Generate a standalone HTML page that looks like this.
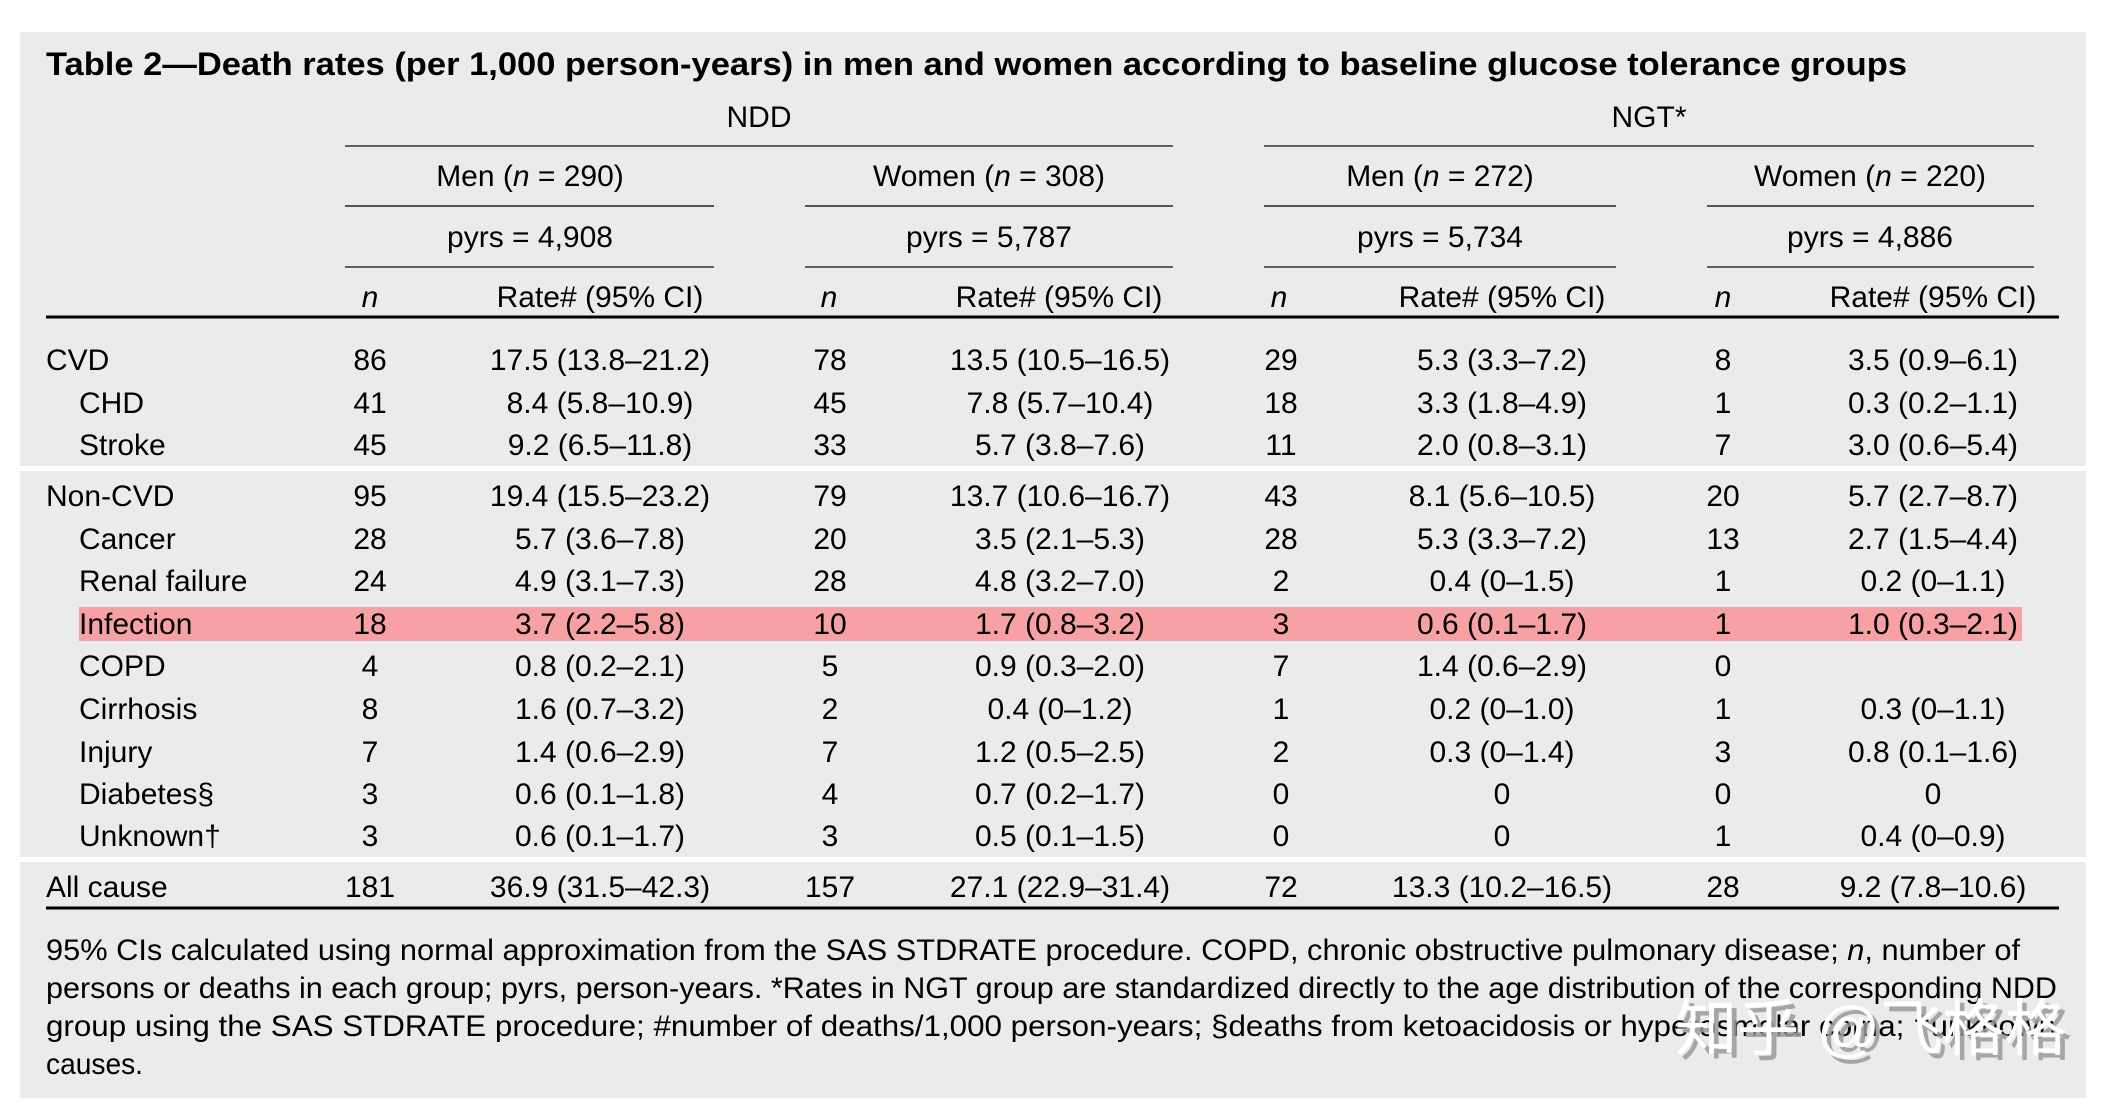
<!DOCTYPE html>
<html>
<head>
<meta charset="utf-8">
<style>
html,body{margin:0;padding:0;background:#fff;}
svg{display:block;}
text{font-family:"Liberation Sans","Noto Sans CJK SC",sans-serif;fill:#000;}
.b{font-size:30px;}
.m{text-anchor:middle;}
.i{font-style:italic;}
.t{font-size:32px;font-weight:bold;}
.wm{font-family:"Liberation Sans","Noto Sans CJK SC",sans-serif;font-size:62px;}
</style>
</head>
<body>
<svg width="2122" height="1112" viewBox="0 0 2122 1112" xmlns="http://www.w3.org/2000/svg">
<rect x="0" y="0" width="2122" height="1112" fill="#fff"/>
<rect x="20" y="32" width="2066" height="1066" fill="#ebebeb"/>
<!-- white separators -->
<rect x="20" y="466" width="2066" height="5" fill="#fff"/>
<rect x="20" y="857" width="2066" height="5" fill="#fff"/>
<!-- pink highlight -->
<rect x="79" y="607" width="1943" height="34" fill="#f8a1a4"/>

<!-- title -->
<text class="t" x="46" y="75" textLength="1861" lengthAdjust="spacingAndGlyphs">Table 2—Death rates (per 1,000 person-years) in men and women according to baseline glucose tolerance groups</text>

<!-- spanners -->
<text class="b m" x="759" y="127">NDD</text>
<text class="b m" x="1649" y="127">NGT*</text>
<line x1="345" y1="146" x2="1173" y2="146" stroke="#333" stroke-width="1.5"/>
<line x1="1264" y1="146" x2="2034" y2="146" stroke="#333" stroke-width="1.5"/>

<text class="b m" x="530" y="186">Men (<tspan class="i">n</tspan> = 290)</text>
<text class="b m" x="989" y="186">Women (<tspan class="i">n</tspan> = 308)</text>
<text class="b m" x="1440" y="186">Men (<tspan class="i">n</tspan> = 272)</text>
<text class="b m" x="1870" y="186">Women (<tspan class="i">n</tspan> = 220)</text>
<g stroke="#555" stroke-width="2">
<line x1="345" y1="206" x2="714" y2="206"/>
<line x1="805" y1="206" x2="1173" y2="206"/>
<line x1="1264" y1="206" x2="1616" y2="206"/>
<line x1="1707" y1="206" x2="2034" y2="206"/>
</g>

<text class="b m" x="530" y="247">pyrs = 4,908</text>
<text class="b m" x="989" y="247">pyrs = 5,787</text>
<text class="b m" x="1440" y="247">pyrs = 5,734</text>
<text class="b m" x="1870" y="247">pyrs = 4,886</text>
<g stroke="#333" stroke-width="1.5">
<line x1="345" y1="267" x2="714" y2="267"/>
<line x1="805" y1="267" x2="1173" y2="267"/>
<line x1="1264" y1="267" x2="1616" y2="267"/>
<line x1="1707" y1="267" x2="2034" y2="267"/>
</g>

<text class="b m i" x="370" y="307">n</text>
<text class="b m" x="600" y="307">Rate# (95% CI)</text>
<text class="b m i" x="829" y="307">n</text>
<text class="b m" x="1059" y="307">Rate# (95% CI)</text>
<text class="b m i" x="1279" y="307">n</text>
<text class="b m" x="1502" y="307">Rate# (95% CI)</text>
<text class="b m i" x="1723" y="307">n</text>
<text class="b m" x="1933" y="307">Rate# (95% CI)</text>
<line x1="46" y1="317" x2="2059" y2="317" stroke="#000" stroke-width="3"/>

<!-- rows -->
<g class="b">
<text class="b" x="46" y="370">CVD</text>
<text class="b m" x="370" y="370">86</text><text class="b m" x="600" y="370">17.5 (13.8–21.2)</text>
<text class="b m" x="830" y="370">78</text><text class="b m" x="1060" y="370">13.5 (10.5–16.5)</text>
<text class="b m" x="1281" y="370">29</text><text class="b m" x="1502" y="370">5.3 (3.3–7.2)</text>
<text class="b m" x="1723" y="370">8</text><text class="b m" x="1933" y="370">3.5 (0.9–6.1)</text>

<text class="b" x="79" y="413">CHD</text>
<text class="b m" x="370" y="413">41</text><text class="b m" x="600" y="413">8.4 (5.8–10.9)</text>
<text class="b m" x="830" y="413">45</text><text class="b m" x="1060" y="413">7.8 (5.7–10.4)</text>
<text class="b m" x="1281" y="413">18</text><text class="b m" x="1502" y="413">3.3 (1.8–4.9)</text>
<text class="b m" x="1723" y="413">1</text><text class="b m" x="1933" y="413">0.3 (0.2–1.1)</text>

<text class="b" x="79" y="455">Stroke</text>
<text class="b m" x="370" y="455">45</text><text class="b m" x="600" y="455">9.2 (6.5–11.8)</text>
<text class="b m" x="830" y="455">33</text><text class="b m" x="1060" y="455">5.7 (3.8–7.6)</text>
<text class="b m" x="1281" y="455">11</text><text class="b m" x="1502" y="455">2.0 (0.8–3.1)</text>
<text class="b m" x="1723" y="455">7</text><text class="b m" x="1933" y="455">3.0 (0.6–5.4)</text>

<text class="b" x="46" y="506">Non-CVD</text>
<text class="b m" x="370" y="506">95</text><text class="b m" x="600" y="506">19.4 (15.5–23.2)</text>
<text class="b m" x="830" y="506">79</text><text class="b m" x="1060" y="506">13.7 (10.6–16.7)</text>
<text class="b m" x="1281" y="506">43</text><text class="b m" x="1502" y="506">8.1 (5.6–10.5)</text>
<text class="b m" x="1723" y="506">20</text><text class="b m" x="1933" y="506">5.7 (2.7–8.7)</text>

<text class="b" x="79" y="549">Cancer</text>
<text class="b m" x="370" y="549">28</text><text class="b m" x="600" y="549">5.7 (3.6–7.8)</text>
<text class="b m" x="830" y="549">20</text><text class="b m" x="1060" y="549">3.5 (2.1–5.3)</text>
<text class="b m" x="1281" y="549">28</text><text class="b m" x="1502" y="549">5.3 (3.3–7.2)</text>
<text class="b m" x="1723" y="549">13</text><text class="b m" x="1933" y="549">2.7 (1.5–4.4)</text>

<text class="b" x="79" y="591">Renal failure</text>
<text class="b m" x="370" y="591">24</text><text class="b m" x="600" y="591">4.9 (3.1–7.3)</text>
<text class="b m" x="830" y="591">28</text><text class="b m" x="1060" y="591">4.8 (3.2–7.0)</text>
<text class="b m" x="1281" y="591">2</text><text class="b m" x="1502" y="591">0.4 (0–1.5)</text>
<text class="b m" x="1723" y="591">1</text><text class="b m" x="1933" y="591">0.2 (0–1.1)</text>

<text class="b" x="79" y="634">Infection</text>
<text class="b m" x="370" y="634">18</text><text class="b m" x="600" y="634">3.7 (2.2–5.8)</text>
<text class="b m" x="830" y="634">10</text><text class="b m" x="1060" y="634">1.7 (0.8–3.2)</text>
<text class="b m" x="1281" y="634">3</text><text class="b m" x="1502" y="634">0.6 (0.1–1.7)</text>
<text class="b m" x="1723" y="634">1</text><text class="b m" x="1933" y="634">1.0 (0.3–2.1)</text>

<text class="b" x="79" y="676">COPD</text>
<text class="b m" x="370" y="676">4</text><text class="b m" x="600" y="676">0.8 (0.2–2.1)</text>
<text class="b m" x="830" y="676">5</text><text class="b m" x="1060" y="676">0.9 (0.3–2.0)</text>
<text class="b m" x="1281" y="676">7</text><text class="b m" x="1502" y="676">1.4 (0.6–2.9)</text>
<text class="b m" x="1723" y="676">0</text>

<text class="b" x="79" y="719">Cirrhosis</text>
<text class="b m" x="370" y="719">8</text><text class="b m" x="600" y="719">1.6 (0.7–3.2)</text>
<text class="b m" x="830" y="719">2</text><text class="b m" x="1060" y="719">0.4 (0–1.2)</text>
<text class="b m" x="1281" y="719">1</text><text class="b m" x="1502" y="719">0.2 (0–1.0)</text>
<text class="b m" x="1723" y="719">1</text><text class="b m" x="1933" y="719">0.3 (0–1.1)</text>

<text class="b" x="79" y="762">Injury</text>
<text class="b m" x="370" y="762">7</text><text class="b m" x="600" y="762">1.4 (0.6–2.9)</text>
<text class="b m" x="830" y="762">7</text><text class="b m" x="1060" y="762">1.2 (0.5–2.5)</text>
<text class="b m" x="1281" y="762">2</text><text class="b m" x="1502" y="762">0.3 (0–1.4)</text>
<text class="b m" x="1723" y="762">3</text><text class="b m" x="1933" y="762">0.8 (0.1–1.6)</text>

<text class="b" x="79" y="804">Diabetes§</text>
<text class="b m" x="370" y="804">3</text><text class="b m" x="600" y="804">0.6 (0.1–1.8)</text>
<text class="b m" x="830" y="804">4</text><text class="b m" x="1060" y="804">0.7 (0.2–1.7)</text>
<text class="b m" x="1281" y="804">0</text><text class="b m" x="1502" y="804">0</text>
<text class="b m" x="1723" y="804">0</text><text class="b m" x="1933" y="804">0</text>

<text class="b" x="79" y="846">Unknown†</text>
<text class="b m" x="370" y="846">3</text><text class="b m" x="600" y="846">0.6 (0.1–1.7)</text>
<text class="b m" x="830" y="846">3</text><text class="b m" x="1060" y="846">0.5 (0.1–1.5)</text>
<text class="b m" x="1281" y="846">0</text><text class="b m" x="1502" y="846">0</text>
<text class="b m" x="1723" y="846">1</text><text class="b m" x="1933" y="846">0.4 (0–0.9)</text>

<text class="b" x="46" y="897">All cause</text>
<text class="b m" x="370" y="897">181</text><text class="b m" x="600" y="897">36.9 (31.5–42.3)</text>
<text class="b m" x="830" y="897">157</text><text class="b m" x="1060" y="897">27.1 (22.9–31.4)</text>
<text class="b m" x="1281" y="897">72</text><text class="b m" x="1502" y="897">13.3 (10.2–16.5)</text>
<text class="b m" x="1723" y="897">28</text><text class="b m" x="1933" y="897">9.2 (7.8–10.6)</text>
</g>
<line x1="46" y1="908" x2="2059" y2="908" stroke="#000" stroke-width="3"/>

<!-- footnote -->
<text class="b" x="46" y="960" textLength="1974" lengthAdjust="spacingAndGlyphs">95% CIs calculated using normal approximation from the SAS STDRATE procedure. COPD, chronic obstructive pulmonary disease; <tspan class="i">n</tspan>, number of</text>
<text class="b" x="46" y="998" textLength="2011" lengthAdjust="spacingAndGlyphs">persons or deaths in each group; pyrs, person-years. *Rates in NGT group are standardized directly to the age distribution of the corresponding NDD</text>
<text class="b" x="46" y="1036" textLength="2010" lengthAdjust="spacingAndGlyphs">group using the SAS STDRATE procedure; #number of deaths/1,000 person-years; §deaths from ketoacidosis or hyperosmolar coma; †unknown</text>
<text class="b" x="46" y="1074" textLength="97" lengthAdjust="spacingAndGlyphs">causes.</text>

<!-- watermark -->
<text class="wm" x="1680" y="1055" textLength="392" lengthAdjust="spacingAndGlyphs" style="fill:#9a9a9a;fill-opacity:0.85">知乎 @飞格格</text>
<text class="wm" x="1675" y="1050" textLength="392" lengthAdjust="spacingAndGlyphs" style="fill:#ffffff">知乎 @飞格格</text>
</svg>
</body>
</html>
